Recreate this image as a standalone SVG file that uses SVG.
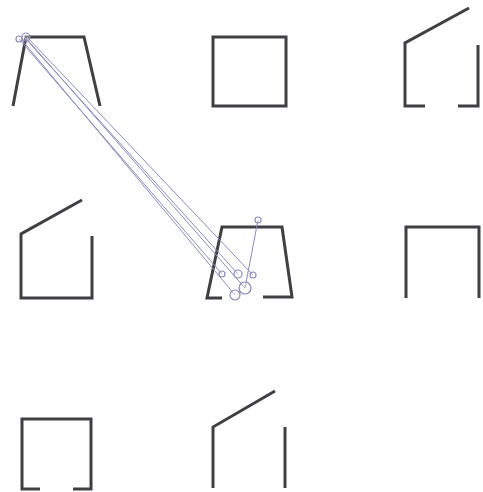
<svg xmlns="http://www.w3.org/2000/svg" width="483" height="492" viewBox="0 0 483 492">
<style>
.s{fill:none;stroke:#3f3f44;stroke-width:3;stroke-linejoin:miter;stroke-linecap:butt}
.c{fill:none;stroke:#8a8ac0;stroke-width:1}
.k{fill:#ffffff;fill-opacity:0.3;stroke:#8a8ac0;stroke-width:1.2}
</style>
<rect width="483" height="492" fill="#ffffff"/>
<g id="shape1"><path class="s" d="M13,106 L26,37 L84,37 L100,106"/></g>
<g id="shape2"><rect class="s" x="213" y="37" width="73" height="69"/></g>
<g id="shape3"><path class="s" d="M469,8 L405,43 L405,106 L425,106 M458,106 L478,106 L478,45"/></g>
<g id="shape4"><path class="s" d="M82,200 L21,234 L21,298 L92,298 L92,236"/></g>
<g id="shape5"><path class="s" d="M222,298 L207,298 L222,227 L282,227 L292,297 L263,297"/></g>
<g id="shape6"><path class="s" d="M406,298 L406,227 L479,227 L479,298"/></g>
<g id="shape7"><path class="s" d="M40,489 L22,489 L22,419 L91,419 L91,489 L73,489"/></g>
<g id="shape8"><path class="s" d="M275,391 L213,427 L213,488 M285,427 L285,488"/></g>
<g id="connectors">
<line class="c" x1="19" y1="39" x2="222" y2="274"/>
<line class="c" x1="24" y1="37" x2="238" y2="274"/>
<line class="c" x1="27" y1="37" x2="253" y2="275"/>
<line class="c" x1="26" y1="38" x2="245" y2="288"/>
<line class="c" x1="21" y1="39" x2="235" y2="295"/>
<line class="c" x1="258" y1="220" x2="245" y2="288"/>
<circle class="k" cx="19" cy="39" r="3"/>
<circle class="k" cx="26" cy="37" r="4"/>
<circle class="k" cx="222" cy="274" r="3"/>
<circle class="k" cx="238" cy="274" r="4"/>
<circle class="k" cx="253" cy="275" r="3"/>
<circle class="k" cx="245" cy="288" r="6"/>
<circle class="k" cx="235" cy="295" r="5"/>
<circle class="k" cx="258" cy="220" r="3"/>
</g>
</svg>
